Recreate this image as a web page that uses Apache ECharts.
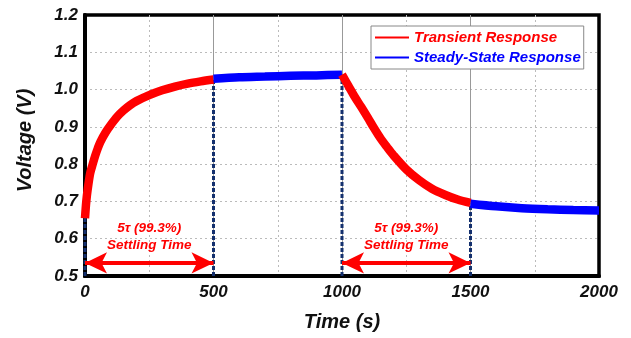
<!DOCTYPE html>
<html>
<head>
<meta charset="utf-8">
<script src="https://cdn.jsdelivr.net/npm/echarts@6/dist/echarts.min.js"></script>
<style>
  html, body { margin: 0; padding: 0; background: #fff; }
  #chart { width: 631px; height: 338px; }
</style>
</head>
<body>
<div id="chart"></div>
<script>
// values
const riseTime = [0, 5, 10, 20, 30, 40, 50, 60, 80, 100, 125, 150, 175, 200, 250, 300, 350, 400, 450, 500];
const riseVolt = [0.655, 0.70, 0.73, 0.775, 0.80, 0.823, 0.843, 0.86, 0.885, 0.905, 0.927, 0.944, 0.958, 0.969, 0.985, 0.998, 1.008, 1.016, 1.022, 1.027];

const highTime = [500, 600, 700, 800, 900, 1000];
const highVolt = [1.029, 1.033, 1.035, 1.037, 1.038, 1.040];

const fallTime = [1000, 1025, 1050, 1075, 1100, 1125, 1150, 1175, 1200, 1250, 1300, 1350, 1400, 1450, 1500];
const fallVolt = [1.040, 1.010, 0.980, 0.953, 0.925, 0.896, 0.869, 0.846, 0.824, 0.786, 0.757, 0.734, 0.718, 0.705, 0.696];

const lowTime = [1500, 1600, 1700, 1800, 1900, 2000];
const lowVolt = [0.694, 0.687, 0.682, 0.679, 0.677, 0.676];

// dashed markers: [time, top voltage]
const markerTimes = [0, 500, 1000, 1500];
const markerTops = [0.665, 1.029, 1.040, 0.694];

// settling arrows
const arrowSpans = [[0, 500], [1000, 1500]];
const arrowLevel = 0.535;

const RED = "#ff0000";
const BLUE = "#0000ff";
const NAVY = "#14306e";
const FONT = "Liberation Sans, Arial, sans-serif";

const zip = (xs, ys) => xs.map((x, i) => [x, ys[i]]);

const chart = echarts.init(document.getElementById("chart"), null, { renderer: "canvas" });

const dashedSeries = markerTimes.map((t, i) => ({
  type: "line",
  data: [[t, 0.5], [t, markerTops[i]]],
  symbol: "none",
  silent: true,
  z: 1,
  lineStyle: { color: NAVY, width: 3, type: [4, 2] },
}));

const arrowSeries = {
  type: "line",
  data: [],
  symbol: "none",
  markLine: {
    silent: true,
    symbol: ["arrow", "arrow"],
    symbolSize: [16, 22],
    lineStyle: { color: RED, width: 4, type: "solid" },
    label: {
      show: true,
      position: "middle",
      distance: 9,
      formatter: "5\u03c4 (99.3%)\nSettling Time",
      color: RED,
      fontFamily: FONT,
      fontSize: 13.5,
      fontWeight: "bold",
      fontStyle: "italic",
      lineHeight: 17,
    },
    data: arrowSpans.map(([a, b]) => [{ coord: [a, arrowLevel] }, { coord: [b, arrowLevel] }]),
  },
};

const curve = (name, color, xs, ys) => ({
  name,
  type: "line",
  data: zip(xs, ys),
  symbol: "none",
  smooth: 0.3,
  z: 3,
  lineStyle: { color, width: 8.5 },
  itemStyle: { color },
});

chart.setOption({
  animation: false,
  grid: {
    left: 85, right: 32, top: 15, bottom: 62,
    show: true, borderColor: "#000", borderWidth: 3.5,
  },
  legend: {
    left: 371, top: 26,
    orient: "vertical",
    icon: "rect",
    itemWidth: 34, itemHeight: 2, itemGap: 3,
    padding: [3, 3, 3, 4],
    borderColor: "#888", borderWidth: 1, backgroundColor: "#fff",
    textStyle: { fontFamily: FONT, fontSize: 15, fontWeight: "bold", fontStyle: "italic", lineHeight: 17 },
    data: [
      { name: "Transient Response", textStyle: { color: RED } },
      { name: "Steady-State Response", textStyle: { color: BLUE } },
    ],
  },
  xAxis: {
    type: "value",
    min: 0, max: 2000, interval: 500,
    name: "Time (s)", nameLocation: "middle", nameGap: 36,
    nameTextStyle: { fontFamily: FONT, fontSize: 20, fontWeight: "bold", fontStyle: "italic", color: "#111" },
    axisLine: { lineStyle: { color: "#000", width: 4 } },
    axisTick: { show: false },
    axisLabel: {
      fontFamily: FONT, fontSize: 17, fontWeight: "bold", fontStyle: "italic", color: "#111", margin: 8,
      formatter: (v) => String(v),
    },
    splitLine: { show: true, showMinLine: false, showMaxLine: false, lineStyle: { color: "#999", width: 1 } },
    minorTick: { show: false, splitNumber: 2 },
    minorSplitLine: { show: true, lineStyle: { color: "#bbb", width: 1, type: [2, 3] } },
  },
  yAxis: {
    type: "value",
    min: 0.5, max: 1.2, interval: 0.1,
    name: "Voltage (V)", nameLocation: "middle", nameGap: 50,
    nameTextStyle: {
      fontFamily: FONT, fontSize: 20, fontWeight: "bold", fontStyle: "italic", color: "#111",
      padding: [0, 0, 0, 10],
    },
    axisLine: { lineStyle: { color: "#000", width: 4 } },
    axisTick: { show: false },
    axisLabel: {
      fontFamily: FONT, fontSize: 17, fontWeight: "bold", fontStyle: "italic", color: "#111", margin: 7,
      formatter: (v) => v.toFixed(1),
    },
    splitLine: { show: true, showMinLine: false, showMaxLine: false, lineStyle: { color: "#bbb", width: 1, type: [2, 3] } },
  },
  series: [
    ...dashedSeries,
    arrowSeries,
    curve("Transient Response", RED, riseTime, riseVolt),
    curve("Steady-State Response", BLUE, highTime, highVolt),
    curve("Transient Response", RED, fallTime, fallVolt),
    curve("Steady-State Response", BLUE, lowTime, lowVolt),
  ],
});
</script>
</body>
</html>
